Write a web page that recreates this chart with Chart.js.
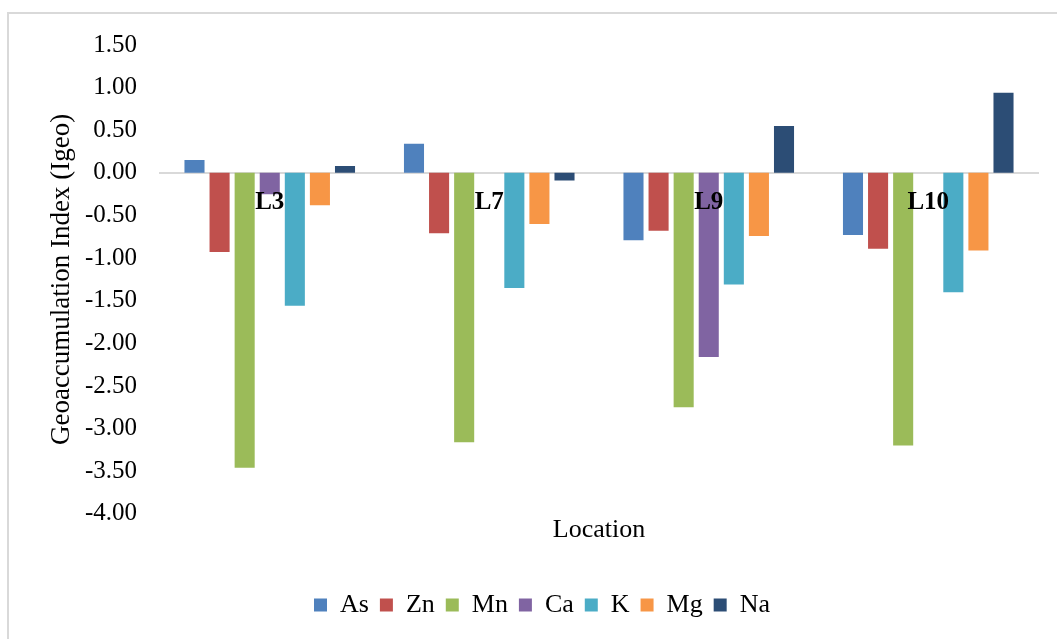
<!DOCTYPE html>
<html>
<head>
<meta charset="utf-8">
<script src="https://cdn.jsdelivr.net/npm/chart.js@4.4.1/dist/chart.umd.min.js"></script>
<style>
    html, body {
        margin: 0;
        padding: 0;
        background: #ffffff;
        overflow: hidden;
    }
    #wrap {
        position: relative;
        width: 1057px;
        height: 639px;
    }
    #frame {
        position: absolute;
        left: 7px;
        top: 12px;
        width: 1070px;
        height: 660px;
        border: 2px solid #d9d9d9;
        box-sizing: border-box;
    }
    canvas {
        position: absolute;
        left: 0;
        top: 0;
    }
</style>
</head>
<body>
<div id="wrap">
    <div id="frame"></div>
    <canvas id="grafico" width="1057" height="639"></canvas>
</div>
<script>
const locais = ["L3", "L7", "L9", "L10"];

const elementos = ["As", "Zn", "Mn", "Ca", "K", "Mg", "Na"];

const valAs = [0.15, 0.34, -0.79, -0.73];
const valZn = [-0.93, -0.71, -0.68, -0.89];
const valMn = [-3.46, -3.16, -2.75, -3.20];
const valCa = [-0.25, 0, -2.16, 0];
const valK = [-1.56, -1.35, -1.31, -1.40];
const valMg = [-0.38, -0.60, -0.74, -0.91];
const valNa = [0.08, -0.09, 0.55, 0.94];

const cores = ["#4f81bd", "#c0504d", "#9bbb59", "#8064a2", "#4bacc6", "#f79646", "#2c4d75"];

const series = [valAs, valZn, valMn, valCa, valK, valMg, valNa];

const fonte = "'Liberation Serif', 'Times New Roman', serif";

Chart.defaults.font.family = fonte;
Chart.defaults.color = "#000000";

new Chart(
    document.getElementById("grafico"),
    {
        type: "bar",
        data: {
            labels: locais,
            datasets: elementos.map((nome, i) => ({
                label: nome,
                data: series[i],
                backgroundColor: cores[i],
                categoryPercentage: 0.8,
                barPercentage: 0.8
            }))
        },
        options: {
            responsive: false,
            animation: false,
            layout: {
                padding: { top: 45, left: 46, right: 19, bottom: 11 }
            },
            plugins: {
                legend: {
                    position: "bottom",
                    labels: {
                        font: { size: 26 },
                        boxWidth: 13,
                        boxHeight: 13,
                        padding: 11
                    }
                },
                tooltip: { enabled: false }
            },
            scales: {
                x: {
                    position: { y: 0 },
                    grid: { display: false, drawTicks: false },
                    border: { display: true, color: "#d9d9d9", width: 2 },
                    ticks: {
                        z: 1,
                        font: { size: 25, weight: "bold" },
                        padding: 15
                    }
                },
                xTitulo: {
                    type: "category",
                    position: "bottom",
                    labels: locais,
                    grid: { display: false, drawTicks: false },
                    border: { display: false },
                    ticks: { display: false },
                    title: {
                        display: true,
                        text: "Location",
                        font: { size: 26 },
                        padding: { top: 1, bottom: 35 }
                    }
                },
                y: {
                    min: -4,
                    max: 1.5,
                    grid: { display: false, drawTicks: false },
                    border: { display: false },
                    afterFit: s => { s.width = 114; },
                    ticks: {
                        stepSize: 0.5,
                        font: { size: 25 },
                        padding: 23,
                        callback: v => v.toFixed(2)
                    },
                    title: {
                        display: true,
                        text: "Geoaccumulation Index (Igeo)",
                        font: { size: 27 },
                        padding: { top: 0, bottom: 5 }
                    }
                }
            }
        }
    }
);
</script>
</body>
</html>
